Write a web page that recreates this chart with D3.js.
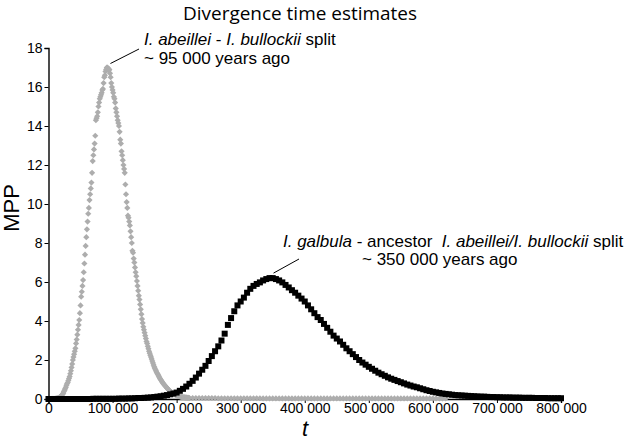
<!DOCTYPE html>
<html>
<head>
<meta charset="utf-8">
<script src="https://cdn.jsdelivr.net/npm/d3@7"></script>
<style>
  html, body { margin: 0; padding: 0; background: #fff; }
  svg { display: block; }
</style>
</head>
<body>
<script>
// ---------- DATA ----------
const title = "Divergence time estimates";
const yLabel = "MPP";
const xLabel = "t";
const xTicks = [0, 100000, 200000, 300000, 400000, 500000, 600000, 700000, 800000];
const yTicks = [0, 2, 4, 6, 8, 10, 12, 14, 16, 18];

// I. abeillei - I. bullockii split (grey), t = 0 .. 220 000 every 1 000 years
const greyStart = 0, greyStep = 1000;
const greyMPP = [
  0,0,0,0,0,0.01,0.01,0.01,0.01,0.01,
  0.01,0.02,0.02,0.03,0.04,0.05,0.06,0.08,0.10,0.12,
  0.15,0.2,0.25,0.3,0.38,0.45,0.52,0.6,0.7,0.78,
  0.85,0.95,1.05,1.15,1.3,1.45,1.62,1.8,2.0,2.15,
  2.3,2.45,2.6,2.85,3.05,3.3,3.55,3.8,4.05,4.4,
  4.8,5.25,5.5,5.8,6.1,6.5,6.95,7.4,7.85,8.3,
  8.7,9.1,9.5,9.8,10.2,10.5,10.8,11.1,11.6,12.2,
  12.5,12.8,13.1,13.5,14.3,14.4,14.5,14.7,15.0,15.2,
  15.4,15.5,15.6,15.7,15.85,15.9,16.2,16.5,16.6,16.8,
  16.9,17.0,17.0,16.95,16.85,16.9,16.7,16.5,16.2,16.0,
  15.85,15.7,15.5,15.4,15.2,14.9,14.7,14.5,14.3,14.15,
  14.0,13.7,13.3,13.1,12.7,12.5,12.25,12.0,11.8,11.6,
  11.0,10.5,10.1,9.8,9.4,9.3,9.1,8.9,8.6,8.3,
  8.0,7.6,7.5,7.2,7.0,6.75,6.5,6.3,6.05,5.8,
  5.55,5.3,5.1,4.85,4.6,4.35,4.1,3.9,3.7,3.55,
  3.4,3.25,3.1,2.95,2.85,2.7,2.58,2.45,2.35,2.25,
  2.15,2.05,1.95,1.85,1.75,1.65,1.58,1.5,1.43,1.36,
  1.3,1.24,1.18,1.12,1.05,1.0,0.95,0.9,0.85,0.8,
  0.76,0.72,0.68,0.64,0.6,0.56,0.52,0.49,0.46,0.42,
  0.39,0.36,0.34,0.32,0.3,0.28,0.26,0.24,0.22,0.2,
  0.19,0.17,0.16,0.15,0.14,0.13,0.12,0.11,0.1,0.1,
  0.09,0.09,0.08,0.08,0.07,0.07,0.07,0.06,0.06,0.06,
  0.05
];
// grey tail, t = 225 000 .. 620 000 every 5 000 years
const greyTailStart = 225000, greyTailStep = 5000;
const greyTailMPP = [
  0.05,0.05,0.05,0.05,0.05,0.05,0.05,0.05,0.04,0.04,
  0.04,0.04,0.04,0.04,0.04,0.04,0.04,0.04,0.04,0.04,
  0.04,0.04,0.03,0.03,0.03,0.03,0.03,0.03,0.03,0.03,
  0.03,0.03,0.03,0.03,0.03,0.03,0.03,0.03,0.03,0.03,
  0.03,0.03,0.03,0.03,0.03,0.03,0.03,0.03,0.03,0.03,
  0.03,0.03,0.03,0.03,0.03,0.03,0.03,0.03,0.03,0.03,
  0.03,0.03,0.03,0.03,0.03,0.03,0.03,0.03,0.03,0.03,
  0.03,0.03,0.03,0.03,0.03,0.03,0.03,0.03,0.03,0.03
];

// I. galbula - ancestor split (black), t = 0 .. 800 000 every 5 000 years
const blackStart = 0, blackStep = 5000;
const blackMPP = [
  0,0,0,0,0,0,0,0,0,0,
  0,0,0,0,0.01,0.01,0.01,0.01,0.01,0.01,
  0.01,0.01,0.02,0.02,0.02,0.03,0.03,0.04,0.05,0.05,
  0.06,0.07,0.08,0.1,0.12,0.14,0.17,0.2,0.24,0.28,
  0.33,0.42,0.52,0.64,0.78,0.93,1.1,1.3,1.5,1.7,
  1.95,2.2,2.45,2.7,3.0,3.35,3.8,4.15,4.5,4.8,
  5.0,5.2,5.45,5.65,5.8,5.9,5.98,6.08,6.15,6.2,
  6.2,6.15,6.08,5.98,5.85,5.72,5.58,5.45,5.3,5.15,
  5.0,4.8,4.6,4.4,4.2,4.05,3.85,3.65,3.45,3.25,
  3.1,2.95,2.78,2.6,2.45,2.3,2.15,2.0,1.87,1.76,
  1.65,1.55,1.45,1.35,1.27,1.19,1.11,1.04,0.98,0.92,
  0.86,0.8,0.74,0.69,0.64,0.6,0.55,0.5,0.45,0.41,
  0.37,0.34,0.31,0.28,0.26,0.24,0.22,0.2,0.19,0.18,
  0.17,0.16,0.15,0.14,0.13,0.12,0.12,0.11,0.1,0.1,
  0.09,0.09,0.08,0.08,0.08,0.07,0.07,0.07,0.06,0.06,
  0.06,0.06,0.05,0.05,0.05,0.05,0.04,0.04,0.04,0.04,0.04
];

// annotations
const ann1Lines = [
  [["I. abeillei", true], [" - ", false], ["I. bullockii", true], [" split", false]],
  [["~ 95 000 years ago", false]]
];
const ann1Peak = [92000, 17.0];
const ann2Lines = [
  [["I. galbula", true], [" - ancestor  ", false], ["I. abeillei/I. bullockii", true], [" split", false]],
  [["~ 350 000 years ago", false]]
];
const ann2Peak = [345000, 6.2];

// ---------- CHART ----------
const W = 631, H = 442;
const svg = d3.select("body").append("svg").attr("width", W).attr("height", H)
  .style("font-family", "'Liberation Sans', Arial, sans-serif");

const x = d3.scaleLinear().domain([0, 800000]).range([48.5, 561]);
const y = d3.scaleLinear().domain([0, 18]).range([399, 48]);

const fmt = d => d3.format(",")(d).replace(/,/g, " ");

// axes
const xAxis = svg.append("g").attr("transform", `translate(0,${y(0)})`)
  .call(d3.axisBottom(x).tickValues(xTicks).tickFormat(fmt).tickSizeOuter(0).tickSize(4));
xAxis.select(".domain").attr("stroke", "#000").attr("stroke-width", 1.4);
xAxis.selectAll(".tick line").attr("stroke", "#000").attr("stroke-width", 1);
xAxis.selectAll(".tick text").attr("font-size", 14).attr("font-family", "'Liberation Sans', Arial, sans-serif")
  .attr("fill", "#000").attr("dy", "0.62em").attr("y", 5);

const yAxis = svg.append("g").attr("transform", `translate(${x(0)},0)`)
  .call(d3.axisLeft(y).tickValues(yTicks).tickSizeOuter(0).tickSize(4));
yAxis.select(".domain").attr("stroke", "#000").attr("stroke-width", 1.4);
yAxis.selectAll(".tick line").attr("stroke", "#000").attr("stroke-width", 1);
yAxis.selectAll(".tick text").attr("font-size", 14).attr("font-family", "'Liberation Sans', Arial, sans-serif")
  .attr("fill", "#000").attr("x", -6);

// data points
const greyPts = greyMPP.map((v, i) => [greyStart + i * greyStep, v])
  .concat(greyTailMPP.map((v, i) => [greyTailStart + i * greyTailStep, v]));
const blackPts = blackMPP.map((v, i) => [blackStart + i * blackStep, v]);

const diamond = d3.symbol().type(d3.symbolSquare).size(19);
svg.append("g").selectAll("path").data(greyPts).join("path")
  .attr("d", diamond)
  .attr("transform", d => `translate(${x(d[0])},${y(d[1])}) rotate(45)`)
  .attr("fill", "#adadad");

const sq = d3.symbol().type(d3.symbolSquare).size(36);
svg.append("g").selectAll("path").data(blackPts).join("path")
  .attr("d", sq)
  .attr("transform", d => `translate(${x(d[0])},${y(d[1])})`)
  .attr("fill", "#000");

// title
svg.append("text").attr("x", 300).attr("y", 20).attr("text-anchor", "middle")
  .attr("font-family", "'Open Sans', sans-serif").attr("font-size", 19)
  .attr("textLength", 234).attr("lengthAdjust", "spacingAndGlyphs")
  .attr("fill", "#000").text(title);

// axis titles
svg.append("text").attr("transform", `translate(19,208) rotate(-90)`).attr("text-anchor", "middle")
  .attr("font-size", 22).attr("fill", "#000").text(yLabel);
svg.append("text").attr("x", 305).attr("y", 436).attr("text-anchor", "middle")
  .attr("font-size", 22).attr("font-style", "italic").attr("fill", "#000").text(xLabel);

// annotations
function annot(lines, positions) {
  lines.forEach((parts, li) => {
    const t = svg.append("text").attr("x", positions[li][0]).attr("y", positions[li][1])
      .attr("font-size", 17).attr("fill", "#000");
    parts.forEach(p => t.append("tspan").attr("font-style", p[1] ? "italic" : "normal")
      .style("white-space", "pre").text(p[0]));
  });
}
svg.style("white-space", "pre");
annot(ann1Lines, [[144, 45], [144, 63.5]]);
annot(ann2Lines, [[283, 247], [362, 265]]);

// leader lines
svg.append("line").attr("x1", x(ann1Peak[0]) + 3).attr("y1", y(ann1Peak[1]) - 4)
  .attr("x2", 139).attr("y2", 49).attr("stroke", "#000").attr("stroke-width", 1);
svg.append("line").attr("x1", x(ann2Peak[0]) + 4).attr("y1", y(ann2Peak[1]) - 5)
  .attr("x2", 299).attr("y2", 259).attr("stroke", "#000").attr("stroke-width", 1);
</script>
</body>
</html>
